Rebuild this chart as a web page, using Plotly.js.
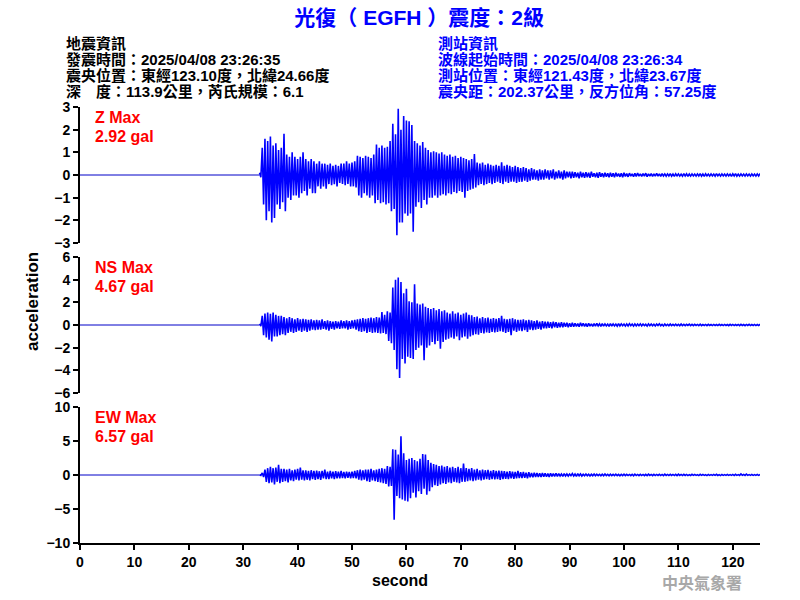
<!DOCTYPE html>
<html>
<head>
<meta charset="utf-8">
<script src="https://cdn.plot.ly/plotly-3.0.1.min.js"></script>
<style>html,body{margin:0;padding:0;background:#fff;}#chart{width:800px;height:600px;}</style>
</head>
<body>
<div id="chart"></div>
<script>
// ---- data (acceleration in gal) ----
const startTime = 33.0;   // first sample of envelope arrays (s)
const dt = 0.5;           // spacing of envelope samples (s)
const baseX = [0, 32.9];  // quiet pre-event record
const baseY = [0, 0];

const tickValsX = [0,10,20,30,40,50,60,70,80,90,100,110,120];

const zUp = [
0.1,1.2,1.6,1.5,1.7,1.3,1.4,1.1,1.2,1.82,
0.9,0.8,1.0,0.8,0.7,0.8,1.0,0.7,0.6,0.7,
0.6,0.5,0.6,0.5,0.5,0.45,0.5,0.4,0.45,0.4,
0.5,0.5,0.6,0.5,0.55,0.6,0.85,0.8,0.75,0.85,
0.8,0.75,0.9,1.34,1.2,1.3,1.2,1.25,1.5,2.26,
1.8,2.92,2.0,2.6,2.4,2.37,2.2,1.5,1.4,1.3,
1.45,1.2,1.1,1.0,1.05,1.0,0.95,1.0,0.9,0.85,
0.9,0.8,0.85,0.75,0.8,0.75,0.7,0.65,0.7,0.93,
0.55,0.5,0.55,0.45,0.5,0.45,0.4,0.45,0.4,0.56,
0.4,0.45,0.4,0.35,0.4,0.35,0.3,0.35,0.3,0.25,
0.3,0.25,0.2,0.25,0.2,0.25,0.2,0.2,0.25,0.15,
0.2,0.15,0.2,0.15,0.15,0.15,0.12,0.1,0.15,0.1,
0.12,0.1,0.15,0.08,0.1,0.12,0.08,0.1,0.08,0.1,
0.08,0.1,0.06,0.08,0.1,0.06,0.08,0.05,0.07,0.08,
0.05,0.06,0.08,0.05,0.06,0.05,0.07,0.05,0.06,0.05,
0.05,0.06,0.04,0.05,0.05,0.04,0.06,0.05,0.04,0.05,
0.04,0.05,0.06,0.04,0.05,0.04,0.05,0.04,0.06,0.04,
0.05,0.04,0.05,0.04,0.05,0.06,0.04,0.05,0.04,0.05,
0.04,0.05,0.04,0.05,0.06];
const zLo = [
-0.1,-1.3,-2.0,-1.6,-2.1,-1.9,-1.3,-1.5,-1.2,-1.6,
-1.0,-1.1,-0.9,-0.9,-1.0,-0.8,-0.7,-0.9,-0.6,-0.8,
-0.8,-0.5,-0.6,-0.5,-0.6,-0.4,-0.45,-0.4,-0.5,-0.35,
-0.4,-0.45,-0.4,-0.5,-0.5,-0.55,-0.9,-1.0,-0.8,-0.9,
-1.0,-0.9,-1.24,-1.1,-1.25,-1.2,-1.3,-1.25,-1.6,-1.5,
-2.66,-2.1,-2.1,-1.7,-1.8,-1.7,-2.5,-1.4,-1.2,-1.45,
-1.1,-1.3,-1.0,-1.0,-0.9,-1.0,-0.9,-0.85,-0.9,-0.8,
-0.85,-0.75,-0.8,-0.7,-0.75,-1.0,-0.7,-0.65,-0.6,-0.55,
-0.45,-0.4,-0.45,-0.4,-0.35,-0.4,-0.35,-0.3,-0.35,-0.4,
-0.3,-0.35,-0.3,-0.3,-0.35,-0.3,-0.3,-0.25,-0.3,-0.25,
-0.2,-0.2,-0.25,-0.2,-0.2,-0.15,-0.2,-0.15,-0.2,-0.15,
-0.15,-0.2,-0.15,-0.1,-0.15,-0.12,-0.1,-0.15,-0.1,-0.12,
-0.1,-0.12,-0.08,-0.1,-0.12,-0.08,-0.1,-0.08,-0.1,-0.08,
-0.1,-0.06,-0.08,-0.1,-0.06,-0.08,-0.05,-0.07,-0.06,-0.05,
-0.06,-0.05,-0.07,-0.05,-0.06,-0.05,-0.05,-0.06,-0.04,-0.05,
-0.04,-0.05,-0.06,-0.04,-0.05,-0.05,-0.04,-0.06,-0.05,-0.04,
-0.05,-0.04,-0.05,-0.06,-0.04,-0.05,-0.04,-0.05,-0.04,-0.05,
-0.04,-0.05,-0.04,-0.06,-0.04,-0.05,-0.05,-0.04,-0.05,-0.04,
-0.05,-0.04,-0.05,-0.04,-0.05];

const nsUp = [
0.1,0.8,1.0,1.1,1.0,1.1,0.9,0.8,0.8,0.7,
0.6,0.7,0.6,0.5,0.6,0.5,0.55,0.5,0.45,0.5,
0.4,0.45,0.4,0.5,0.35,0.4,0.35,0.3,0.35,0.3,
0.4,0.35,0.4,0.35,0.4,0.45,0.5,0.55,0.6,0.55,
0.6,0.65,0.6,0.7,0.65,1.15,0.9,1.2,1.1,3.3,
4.0,4.2,3.8,2.8,3.2,2.1,2.0,3.6,1.9,1.8,
1.9,1.6,1.5,1.4,1.5,1.3,1.4,1.2,1.3,1.1,
1.0,1.2,1.0,1.1,0.9,1.0,1.1,0.9,0.85,0.7,
0.75,0.6,0.7,0.6,0.65,0.55,0.6,0.55,0.6,0.82,
0.55,0.5,0.55,0.6,0.5,0.45,0.45,0.5,0.4,0.45,
0.4,0.35,0.4,0.3,0.35,0.3,0.3,0.25,0.3,0.25,
0.2,0.25,0.2,0.2,0.15,0.2,0.15,0.12,0.2,0.15,
0.12,0.15,0.1,0.12,0.15,0.1,0.12,0.1,0.08,0.12,
0.1,0.08,0.12,0.1,0.08,0.1,0.12,0.08,0.1,0.08,
0.1,0.08,0.06,0.1,0.08,0.06,0.08,0.1,0.06,0.08,
0.06,0.08,0.05,0.07,0.06,0.08,0.05,0.06,0.07,0.05,
0.06,0.05,0.07,0.04,0.05,0.06,0.04,0.05,0.04,0.06,
0.04,0.05,0.04,0.06,0.05,0.04,0.05,0.06,0.04,0.05,
0.06,0.04,0.05,0.04,0.05];
const nsLo = [
-0.1,-0.9,-1.1,-1.3,-1.45,-1.0,-1.0,-0.9,-0.8,-0.9,
-0.7,-0.6,-0.7,-0.6,-0.5,-0.6,-0.5,-0.6,-0.5,-0.4,
-0.45,-0.4,-0.4,-0.35,-0.4,-0.5,-0.35,-0.4,-0.3,-0.35,
-0.3,-0.3,-0.4,-0.35,-0.3,-0.4,-0.55,-0.6,-0.55,-0.7,
-0.6,-0.7,-0.65,-0.7,-0.75,-0.7,-0.8,-1.4,-1.6,-2.2,
-3.9,-4.67,-3.0,-3.4,-2.8,-2.9,-3.0,-2.2,-2.0,-1.8,
-3.1,-2.0,-1.8,-1.5,-1.7,-1.4,-2.1,-1.5,-1.3,-1.2,
-1.1,-1.2,-1.0,-1.35,-1.1,-1.0,-1.2,-1.0,-0.9,-0.8,
-0.85,-0.7,-0.75,-0.65,-0.7,-0.6,-0.65,-0.6,-0.55,-0.6,
-0.7,-0.6,-0.9,-0.5,-0.6,-0.5,-0.55,-0.45,-0.6,-0.4,
-0.45,-0.4,-0.35,-0.4,-0.3,-0.3,-0.25,-0.3,-0.2,-0.25,
-0.2,-0.2,-0.15,-0.2,-0.15,-0.15,-0.12,-0.15,-0.1,-0.12,
-0.15,-0.1,-0.12,-0.1,-0.08,-0.12,-0.1,-0.08,-0.12,-0.1,
-0.08,-0.1,-0.08,-0.06,-0.1,-0.08,-0.06,-0.1,-0.08,-0.06,
-0.08,-0.06,-0.1,-0.06,-0.07,-0.08,-0.05,-0.06,-0.08,-0.05,
-0.07,-0.05,-0.06,-0.05,-0.07,-0.05,-0.06,-0.04,-0.05,-0.06,
-0.04,-0.06,-0.05,-0.04,-0.06,-0.04,-0.05,-0.04,-0.05,-0.04,
-0.05,-0.04,-0.06,-0.04,-0.05,-0.04,-0.05,-0.04,-0.06,-0.04,
-0.05,-0.04,-0.05,-0.04,-0.05];

const ewUp = [
0.05,0.3,0.8,1.0,1.2,1.0,1.1,1.5,0.9,0.9,
0.8,0.9,0.7,0.8,0.9,1.1,0.7,0.7,0.6,0.7,
0.6,0.65,0.55,0.6,0.8,0.5,0.6,0.5,0.55,0.5,
0.6,0.45,0.5,0.45,0.5,0.6,0.7,0.8,0.7,0.8,
0.8,0.9,0.7,0.8,0.9,1.0,0.9,1.3,1.2,3.8,
3.7,3.0,5.7,3.2,2.2,2.4,2.5,2.2,2.0,2.4,
3.1,3.0,2.2,1.8,1.6,1.5,1.3,1.4,1.2,1.3,
1.1,1.2,1.0,1.2,1.0,1.7,1.0,0.9,1.0,0.8,
0.9,0.7,0.8,0.7,0.75,0.6,0.7,0.6,0.65,0.6,
0.55,0.5,0.55,0.5,0.45,0.6,0.4,0.45,0.35,0.4,
0.3,0.35,0.3,0.25,0.3,0.25,0.2,0.25,0.2,0.25,
0.2,0.15,0.2,0.15,0.15,0.2,0.15,0.2,0.15,0.12,
0.15,0.12,0.1,0.15,0.12,0.1,0.12,0.15,0.1,0.12,
0.1,0.12,0.08,0.1,0.12,0.1,0.08,0.1,0.12,0.08,
0.1,0.08,0.1,0.12,0.08,0.1,0.08,0.1,0.08,0.12,
0.08,0.1,0.08,0.1,0.12,0.08,0.1,0.08,0.06,0.1,
0.08,0.06,0.1,0.08,0.06,0.08,0.06,0.08,0.1,0.06,
0.08,0.06,0.08,0.06,0.08,0.1,0.06,0.15,0.08,0.12,
0.06,0.08,0.06,0.08,0.06];
const ewLo = [
-0.05,-0.3,-1.0,-1.2,-1.1,-1.4,-1.0,-1.2,-1.0,-0.9,
-1.1,-0.8,-0.9,-0.7,-0.8,-0.7,-0.8,-0.7,-0.8,-0.6,
-0.7,-0.6,-0.7,-0.5,-0.6,-0.6,-0.5,-0.6,-0.5,-0.5,
-0.45,-0.5,-0.4,-0.5,-0.45,-0.5,-0.7,-0.8,-0.7,-0.9,
-1.0,-0.8,-0.9,-1.0,-1.1,-1.2,-1.3,-1.7,-1.6,-6.57,
-3.1,-3.4,-3.6,-3.8,-3.9,-3.4,-2.6,-3.3,-2.4,-2.8,
-2.0,-2.9,-2.4,-1.8,-1.5,-1.6,-1.4,-1.2,-1.3,-1.1,
-1.2,-1.0,-1.1,-1.2,-1.0,-1.0,-0.9,-0.8,-0.9,-0.8,
-0.7,-0.8,-0.7,-0.6,-0.7,-0.6,-0.65,-0.6,-0.7,-0.6,
-0.55,-0.6,-0.5,-0.55,-0.5,-0.45,-0.45,-0.4,-0.5,-0.35,
-0.35,-0.3,-0.3,-0.3,-0.25,-0.25,-0.3,-0.2,-0.2,-0.2,
-0.15,-0.2,-0.15,-0.15,-0.1,-0.15,-0.2,-0.12,-0.15,-0.1,
-0.12,-0.15,-0.1,-0.12,-0.1,-0.12,-0.1,-0.08,-0.12,-0.1,
-0.08,-0.1,-0.12,-0.08,-0.1,-0.08,-0.1,-0.12,-0.08,-0.1,
-0.08,-0.1,-0.08,-0.06,-0.1,-0.08,-0.06,-0.08,-0.1,-0.06,
-0.08,-0.06,-0.08,-0.1,-0.06,-0.08,-0.06,-0.08,-0.06,-0.05,
-0.06,-0.08,-0.05,-0.06,-0.08,-0.05,-0.06,-0.05,-0.06,-0.08,
-0.05,-0.06,-0.05,-0.06,-0.08,-0.05,-0.06,-0.05,-0.06,-0.05,
-0.06,-0.05,-0.06,-0.05,-0.06];

const panelLabels = ["Z Max", "NS Max", "EW Max"];
const maxLabels = ["2.92 gal", "4.67 gal", "6.57 gal"];
const titleText = "光復（ EGFH ）震度：2級";
const quakeInfo = ["地震資訊", "發震時間：2025/04/08 23:26:35", "震央位置：東經123.10度，北緯24.66度", "深　度：113.9公里，芮氏規模：6.1"];
const stationInfo = ["測站資訊", "波線起始時間：2025/04/08 23:26:34", "測站位置：東經121.43度，北緯23.67度", "震央距：202.37公里，反方位角：57.25度"];

// ---- build traces ----
const SIG = {color: '#0000ff', width: 1.6, simplify: false};
function buildTrace(up, lo, yaxis) {
  const x = [], y = [];
  for (let i = 0; i < up.length; i++) {
    const t = startTime + i * dt;
    x.push(t); y.push(up[i]);
    x.push(t + dt / 2); y.push(lo[i]);
  }
  return {x: x, y: y, type: 'scatter', mode: 'lines', xaxis: 'x', yaxis: yaxis,
    line: SIG, hoverinfo: 'skip', showlegend: false};
}
function baseTrace(yaxis) {
  return {x: baseX.concat([startTime]), y: baseY.concat([0]), type: 'scatter', mode: 'lines', xaxis: 'x', yaxis: yaxis,
    line: {color: '#0000c8', width: 1}, hoverinfo: 'skip', showlegend: false};
}
const data = [baseTrace('y'), baseTrace('y2'), baseTrace('y3'),
  buildTrace(zUp, zLo, 'y'), buildTrace(nsUp, nsLo, 'y2'), buildTrace(ewUp, ewLo, 'y3')];

// ---- layout helpers (pixel -> paper) ----
const L = 80, R = 760, T = 107, B = 543;
const px = v => (v - L) / (R - L);
const py = v => (B - v) / (B - T);
const FONT = "Arial, 'Liberation Sans', 'Noto Sans CJK TC', sans-serif";

const tickFont = {family: FONT, size: 14, color: '#000', weight: 'bold'};
function yax(domain, range, dtick) {
  return {domain: domain, range: range, dtick: dtick, tick0: 0, anchor: 'x',
    showline: true, linecolor: '#000', linewidth: 2, ticks: 'outside', ticklen: 5, tickwidth: 2,
    tickcolor: '#000', showgrid: false, zeroline: false, tickfont: tickFont, fixedrange: true};
}

const annotations = [];
const lineYs = [43.5, 59.5, 75, 91];
quakeInfo.forEach((s, i) => annotations.push({text: s, xref: 'paper', yref: 'paper', x: px(64), y: py(lineYs[i]),
  xanchor: 'left', yanchor: 'middle', showarrow: false, font: {family: FONT, size: 15, color: '#000', weight: 'bold'}}));
stationInfo.forEach((s, i) => annotations.push({text: s, xref: 'paper', yref: 'paper', x: px(436), y: py(lineYs[i]),
  xanchor: 'left', yanchor: 'middle', showarrow: false, font: {family: FONT, size: 15, color: '#0000ff', weight: 'bold'}}));
const labelYs = [[117.5, 136], [267.5, 286], [417.5, 436]];
panelLabels.forEach((s, i) => {
  annotations.push({text: s, xref: 'paper', yref: 'paper', x: px(93), y: py(labelYs[i][0]), xanchor: 'left', yanchor: 'middle',
    showarrow: false, font: {family: FONT, size: 16, color: '#ff0000', weight: 'bold'}});
  annotations.push({text: maxLabels[i], xref: 'paper', yref: 'paper', x: px(93), y: py(labelYs[i][1]), xanchor: 'left', yanchor: 'middle',
    showarrow: false, font: {family: FONT, size: 16, color: '#ff0000', weight: 'bold'}});
});
annotations.push({text: 'acceleration', xref: 'paper', yref: 'paper', x: px(32), y: py(302), xanchor: 'center', yanchor: 'middle',
  textangle: -90, showarrow: false, font: {family: FONT, size: 17, color: '#000', weight: 'bold'}});
annotations.push({text: 'second', xref: 'paper', yref: 'paper', x: px(400), y: py(580), xanchor: 'center', yanchor: 'middle',
  showarrow: false, font: {family: FONT, size: 16, color: '#000', weight: 'bold'}});
annotations.push({text: '中央氣象署', xref: 'paper', yref: 'paper', x: px(702), y: py(582), xanchor: 'center', yanchor: 'middle',
  showarrow: false, font: {family: "'Noto Sans CJK TC', sans-serif", size: 16, color: '#a8a8a8', weight: 'bold'}});

const layout = {
  width: 800, height: 600,
  margin: {l: L, r: 800 - R, t: T, b: 600 - B, pad: 0},
  paper_bgcolor: '#fff', plot_bgcolor: '#fff',
  title: {text: titleText, x: 0.524, xref: 'container', xanchor: 'center', y: 1 - 18 / 600, yref: 'container', yanchor: 'middle',
    font: {family: FONT, size: 21, color: '#0000ff', weight: 'bold'}},
  xaxis: {domain: [0, 1], range: [0, 125], anchor: 'y3', tickvals: tickValsX, showline: true, linecolor: '#000', linewidth: 2,
    ticks: 'outside', ticklen: 5, tickwidth: 2, tickcolor: '#000', showgrid: false, zeroline: false, tickfont: tickFont, fixedrange: true},
  yaxis: yax([300 / 436, 1], [-3, 3], 1),
  yaxis2: yax([150 / 436, 286 / 436], [-6, 6], 2),
  yaxis3: yax([0, 136 / 436], [-10, 10], 5),
  annotations: annotations,
  showlegend: false
};

Plotly.newPlot('chart', data, layout, {staticPlot: true, displayModeBar: false});
</script>
</body>
</html>
